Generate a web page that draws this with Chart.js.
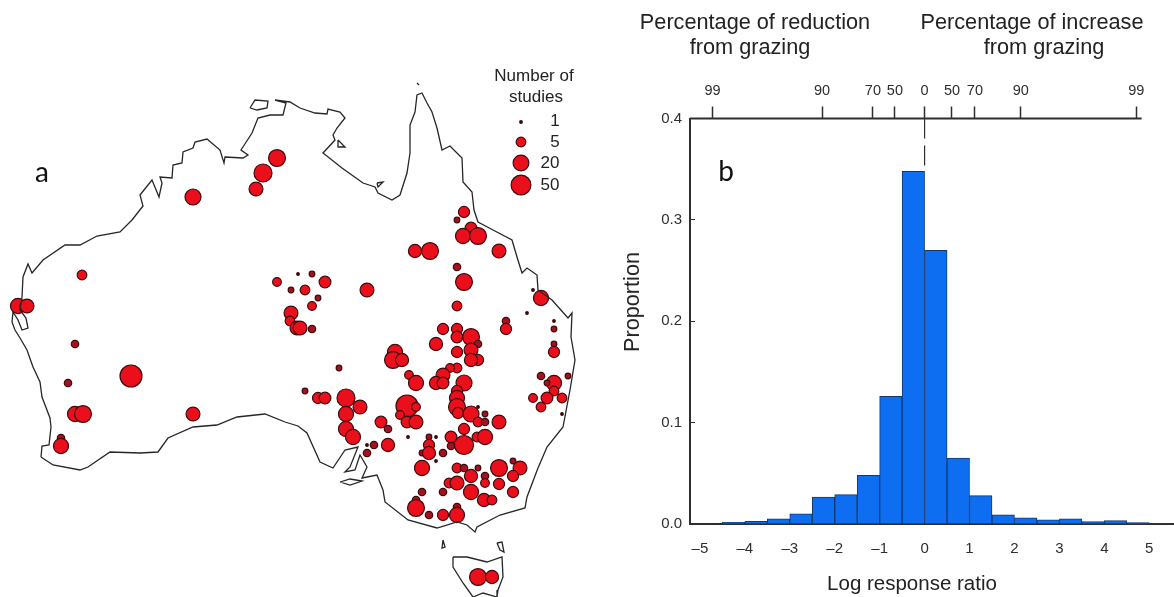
<!DOCTYPE html>
<html>
<head>
<meta charset="utf-8">
<title>Grazing studies</title>
<script src="https://cdn.jsdelivr.net/npm/chart.js@4"></script>
<style>
  html, body { margin: 0; padding: 0; background: #fff; }
  #page { position: relative; width: 1174px; height: 597px; overflow: hidden; font-family: "Liberation Sans", sans-serif; color: #222; }
  canvas { position: absolute; top: 0; }
  #map { left: 0; }
  #hist { left: 610px; }
  .t { position: absolute; white-space: nowrap; transform: translate(-50%, -50%); }
  .head { font-size: 21.7px; }
  .legendhead { font-size: 17px; }
  .legendnum { font-size: 17px; }
  .panel { font-family: Lato, sans-serif; font-size: 28px; color: #111; }
</style>
</head>
<body>
<div id="page">
  <canvas id="map" width="610" height="597"></canvas>
  <canvas id="hist" width="564" height="597"></canvas>
  <div class="t panel" style="left:42px;top:171px">a</div>
  <div class="t panel" style="left:726px;top:170px">b</div>
  <div class="t legendhead" style="left:534px;top:76px">Number of</div>
  <div class="t legendhead" style="left:536px;top:97px">studies</div>
  <div class="t legendnum" style="left:555px;top:121px">1</div>
  <div class="t legendnum" style="left:555px;top:142px">5</div>
  <div class="t legendnum" style="left:550px;top:163px">20</div>
  <div class="t legendnum" style="left:550px;top:185px">50</div>
  <div class="t head" style="left:755px;top:22px">Percentage of reduction</div>
  <div class="t head" style="left:750px;top:47px">from grazing</div>
  <div class="t head" style="left:1032px;top:22px">Percentage of increase</div>
  <div class="t head" style="left:1044px;top:47px">from grazing</div>
  <div class="t" style="left:912px;top:583px;font-size:20.5px">Log response ratio</div>
  <div class="t head" style="left:632px;top:302px;transform:translate(-50%,-50%) rotate(-90deg)">Proportion</div>
</div>
<script>
// panel a, map units are the picture's own x / y
const coastMainland = [[41,457],[42,446],[49,445],[51,427],[50,418],[42,397],[40,382],[33,367],[27,350],[20,338],[15,330],
  [12,322],[13,312],[18,320],[22,330],[28,328],[26,318],[20,310],[22,297],[23,277],[28,264],[32,273],[43,260],[65,245],[80,245],[97,236],[120,232],[132,220],
  [143,206],[140,195],[152,180],[159,197],[162,183],[160,177],[172,178],[173,165],[182,163],[183,152],[193,148],[195,142],[207,139],
  [220,150],[224,163],[225,157],[243,158],[248,155],[241,150],[252,133],[258,118],[270,115],[283,115],[286,103],[275,100],[290,102],
  [300,108],[315,113],[327,114],[328,109],[340,112],[345,118],[337,128],[333,135],[335,140],[323,153],[342,168],[363,183],[375,187],
  [378,193],[392,200],[400,195],[407,173],[410,153],[410,125],[415,112],[417,95],[422,93],[427,103],[432,112],[437,128],[442,150],
  [450,146],[462,158],[463,182],[472,192],[474,210],[478,222],[493,230],[512,240],[517,257],[522,273],[527,268],[537,275],[538,290],
  [552,300],[568,318],[572,313],[571,337],[575,360],[570,390],[563,427],[547,447],[538,468],[527,497],[525,508],[500,515],[477,527],
  [475,532],[467,525],[457,522],[437,528],[408,520],[385,502],[383,490],[377,475],[362,478],[367,467],[360,455],[355,470],[345,472],
  [350,467],[358,447],[345,450],[333,468],[320,462],[307,433],[298,426],[285,422],[265,414],[237,417],[217,425],[193,427],[168,438],
  [158,452],[140,453],[110,452],[88,467],[80,470],[53,465],[41,457]];
const coastMelville = [[250,108],[255,100],[268,101],[267,108],[257,110],[250,108]];
const coastGroote = [[338,140],[345,147],[338,147],[338,140]];
const coastMornington = [[377,183],[383,182],[378,187],[377,183]];
const coastKangaroo = [[340,482],[350,479],[362,481],[350,485],[340,482]];
const coastKing = [[443,540],[445,547],[442,548],[443,540]];
const coastFlinders = [[497,543],[502,542],[504,552],[500,550],[497,543]];
const coastTasmania = [[453,557],[467,557],[487,562],[502,557],[503,577],[498,590],[497,597],[483,593],[473,597],[463,583],[453,567],[453,557]];
const coastCapeIslet = [[417,83],[419,85]];
const coastlines = [coastMainland, coastMelville, coastGroote, coastMornington, coastKangaroo, coastKing, coastFlinders, coastTasmania, coastCapeIslet];

const siteX = [193,277,263,256,82,18,27,277,291,298,291,290,297,
  75,68,131,75,83,61,61,193,
  464,457,471,463,478,499,415,430,457,464,312,325,305,318,312,367,312,300,541,533,527,554,554,506,506,457,443,457,
  471,457,436,478,471,457,478,471,395,393,402,339,409,416,457,450,443,436,443,464,457,457,457,458,471,478,485,485,499,478,
  305,318,325,346,360,346,346,353,381,388,374,388,367,367,407,416,400,407,416,408,429,436,429,422,429,443,436,422,
  464,451,451,464,477,485,457,464,478,499,520,513,513,471,485,485,499,513,449,457,471,443,422,416,416,429,443,457,457,484,492,478,492,
  554,554,541,568,554,547,554,547,533,562,541,562];
const siteY = [197,158,173,189,275,306,306,282,290,274,313,321,328,
  344,383,376,414,414,438,446,414,
  212,220,228,236,236,251,251,251,267,282,274,282,290,298,306,290,329,328,298,290,313,321,329,321,329,306,329,329,
  337,337,344,344,350,352,360,360,352,360,360,368,375,383,368,368,375,383,383,383,391,398,407,413,414,422,414,422,422,407,
  391,398,398,398,407,414,429,437,422,429,445,445,453,445,406,407,415,422,422,437,437,437,445,453,453,453,461,468,
  429,437,446,445,437,437,468,468,468,468,468,461,476,476,476,483,484,492,483,483,492,492,492,500,508,515,515,507,515,500,500,577,577,
  344,352,376,376,383,383,391,398,398,398,407,414];
const siteStudies = [21,26,33,13,5,17,13,4,2,1,13,5,13,
  3,3,82,17,26,3,17,13,
  7,2,8,17,26,13,11,26,3,26,2,8,5,2,4,13,3,13,17,1,1,1,2,3,7,5,7,7,
  26,8,11,3,13,7,7,11,17,26,11,2,4,17,5,4,13,11,8,21,7,17,26,7,21,5,2,3,13,1,
  2,7,8,33,13,17,17,17,8,3,3,11,3,1,82,4,4,8,13,1,2,1,7,2,11,3,1,17,
  7,8,3,42,5,17,5,3,2,26,13,2,7,11,3,4,7,7,5,13,17,3,3,3,26,3,7,3,17,11,5,26,11,
  2,7,3,2,17,2,5,8,4,5,5,1];

const legendStudies = [1, 5, 20, 50];
const legendX = [521, 521, 521, 521];
const legendY = [122, 142, 163, 185];

// panel b, histogram
const binCenters = [-4.25,-3.75,-3.25,-2.75,-2.25,-1.75,-1.25,-0.75,-0.25,0.25,0.75,1.25,1.75,2.25,2.75,3.25,3.75,4.25,4.75,5.25];
const proportions = [0.0016,0.0026,0.005,0.010,0.0266,0.029,0.048,0.126,0.348,0.27,0.065,0.028,0.009,0.006,0.004,0.005,0.0023,0.0033,0.0013,0.0005];
const xTickValues = [-5,-4,-3,-2,-1,0,1,2,3,4,5];
const yTickValues = [0,0.1,0.2,0.3,0.4];
const topTickValues = [-4.72,-2.28,-1.15,-0.66,0,0.61,1.12,2.14,4.71];
const topTickLabels = ["99","90","70","50","0","50","70","90","99"];
const xMin = -5.22, xMax = 5.55;
const topAxisEnd = 4.83;

const ink = "#2e2e2e";
const tickFont = { family: "Liberation Sans", size: 15 };

// dot size from study count, fitted on the legend
const studyRadius = n => 2.2 * Math.log(n) + 1.3;
// the small dots come out darker in the source
const studyFill = n => (n < 2 ? "#2a0a0a" : n <= 3 ? "#a3121e" : "#ea0f1b");
const toPoints = (xs, ys) => xs.map((x, i) => ({ x: x, y: ys[i] }));

const hiddenScale = (min, max, reverse) => ({ type: "linear", display: false, min: min, max: max, reverse: reverse });

const coastSets = coastlines.map(line => ({
  data: line.map(p => ({ x: p[0], y: p[1] })),
  showLine: true,
  pointRadius: 0,
  borderColor: "#262626",
  borderWidth: 1.3,
  tension: 0
}));

new Chart(document.getElementById("map"), {
  type: "scatter",
  data: {
    datasets: coastSets.concat([
      {
        data: toPoints(siteX, siteY),
        pointRadius: siteStudies.map(studyRadius),
        pointBackgroundColor: siteStudies.map(studyFill),
        pointBorderColor: "#3d0a0d",
        pointBorderWidth: 1.2
      },
      {
        data: toPoints(legendX, legendY),
        pointRadius: legendStudies.map(studyRadius),
        pointBackgroundColor: legendStudies.map(studyFill),
        pointBorderColor: "#3d0a0d",
        pointBorderWidth: 1.2
      }
    ])
  },
  options: {
    responsive: false,
    animation: false,
    layout: { padding: 0, autoPadding: false },
    plugins: { legend: { display: false }, tooltip: { enabled: false } },
    scales: { x: hiddenScale(0, 610, false), y: hiddenScale(0, 597, true) }
  }
});

new Chart(document.getElementById("hist"), {
  data: {
    datasets: [
      {
        type: "line",
        data: [{ x: xMin, y: 0.4 }, { x: topAxisEnd, y: 0.4 }],
        borderColor: ink,
        borderWidth: 2,
        pointRadius: 0,
        clip: false
      },
      {
        type: "line",
        data: [{ x: 0, y: 0.4 }, { x: 0, y: proportions[8] }],
        borderColor: ink,
        borderWidth: 1.2,
        borderDash: [20, 7],
        pointRadius: 0
      },
      {
        type: "bar",
        data: toPoints(binCenters, proportions),
        backgroundColor: "#0d6ef2",
        borderColor: "#12386e",
        borderWidth: 1,
        barPercentage: 1,
        categoryPercentage: 1
      }
    ]
  },
  options: {
    responsive: false,
    animation: false,
    layout: { padding: 0, autoPadding: false },
    plugins: { legend: { display: false }, tooltip: { enabled: false } },
    scales: {
      x: {
        type: "linear",
        position: "bottom",
        min: xMin,
        max: xMax,
        offset: false,
        border: { color: ink, width: 2 },
        grid: { display: true, drawOnChartArea: false, drawTicks: false, offset: false },
        afterBuildTicks: s => { s.ticks = xTickValues.map(v => ({ value: v })); },
        afterFit: s => { s.height = 73; },
        ticks: {
          autoSkip: false,
          maxRotation: 0,
          padding: 16,
          color: ink,
          font: tickFont,
          callback: v => (v < 0 ? "\u2013" + (-v) : String(v))
        }
      },
      xTop: {
        type: "linear",
        axis: "x",
        position: "top",
        min: xMin,
        max: xMax,
        offset: false,
        border: { display: false },
        grid: { drawOnChartArea: false, tickLength: 12, tickWidth: 1.5, tickColor: ink, offset: false },
        afterBuildTicks: s => { s.ticks = topTickValues.map(v => ({ value: v })); },
        afterFit: s => { s.height = 118.5; },
        ticks: {
          autoSkip: false,
          maxRotation: 0,
          padding: 7,
          color: ink,
          font: { family: "Liberation Sans", size: 14.5 },
          callback: (v, i) => topTickLabels[i]
        }
      },
      y: {
        type: "linear",
        min: 0,
        max: 0.4,
        border: { color: ink, width: 2 },
        grid: { drawOnChartArea: false, tickLength: -5, tickColor: ink },
        afterBuildTicks: s => { s.ticks = yTickValues.map(v => ({ value: v })); },
        afterFit: s => { s.width = 80; },
        ticks: {
          padding: 13,
          color: ink,
          font: tickFont,
          callback: v => v.toFixed(1)
        }
      }
    }
  }
});
</script>
</body>
</html>
